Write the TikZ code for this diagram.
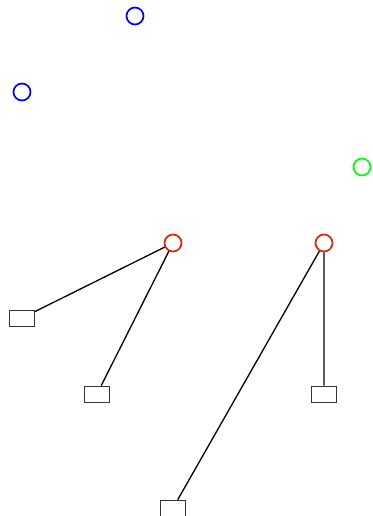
\documentclass[tikz,border=0pt]{standalone}
\usepackage{xcolor}
\usetikzlibrary{positioning}
\definecolor{rootred}{RGB}{225,35,0}
\definecolor{pureblue}{RGB}{0,0,255}
\definecolor{puregreen}{RGB}{0,255,0}

\begin{document}
\begin{tikzpicture}[x=1pt, y=-1pt]
		
		% Setup the style for the nodes
		\tikzset{dot style/.style={circle,
				minimum size=17pt,
				inner sep=0pt,
				line width=1.7pt},
			leaf style/.style={rectangle,
				draw=black!80,
				minimum width=25pt,
				minimum height=16pt,
				inner sep=0pt,
				line width=0.7pt}}
		
		\useasboundingbox (0, 0) rectangle (372, 516);
		
		% Draw the circles
		\node[dot style, draw=pureblue] at (135, 16)    (blueA)  {};
		\node[dot style, draw=pureblue] at (22, 92)     (blueB)  {};
		\node[dot style, draw=puregreen] at (362, 167)  (green)  {};
		\node[dot style, draw=rootred] at (173, 243)    (rootA)  {};
		\node[dot style, draw=rootred] at (324, 243)    (rootB)  {};
		
		% Draw the boxes
		\node[leaf style] at (22, 318)  (leafA) {};
		\node[leaf style] at (97, 394)  (leafB) {};
		\node[leaf style] at (324, 394) (leafC) {};
		\node[leaf style] at (173, 508) (leafD) {};
		
		% Connect the circles with the boxes
		\draw[line width=1.3pt]
		(rootA) -- (leafA)
		(rootA) -- (leafB)
		(rootB) -- (leafD)
		(rootB) -- (leafC);
		\end{tikzpicture}
\end{document}
